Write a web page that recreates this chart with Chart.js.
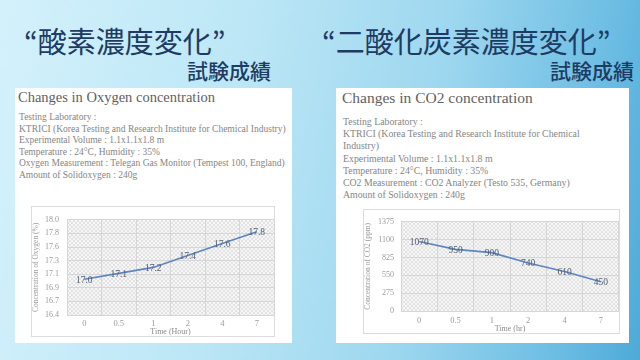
<!DOCTYPE html>
<html>
<head>
<meta charset="utf-8">
<script src="https://cdn.jsdelivr.net/npm/chart.js@4"></script>
<style>
  html,body{margin:0;padding:0;}
  body{width:640px;height:360px;overflow:hidden;position:relative;
    background:linear-gradient(100deg,#d3f1fb 0%,#bde7f6 35%,#9dd7ef 65%,#6cbde3 88%,#4eaad8 100%);
    font-family:"Liberation Serif",serif;}
  .t1{position:absolute;font-family:"Noto Sans CJK JP",sans-serif;font-weight:400;color:#1d3b63;font-size:29px;line-height:1;white-space:nowrap;}
  .t2{position:absolute;font-family:"Noto Sans CJK JP",sans-serif;font-weight:500;color:#1d3b63;font-size:21px;line-height:1;white-space:nowrap;}
  .panel{position:absolute;background:#fff;}
  .ptitle{position:absolute;color:#5f5f5f;white-space:nowrap;line-height:1;}
  .body{position:absolute;color:#858585;}
  .body div{white-space:nowrap;}
  .box{position:absolute;border:1px solid #dcdcdc;box-sizing:border-box;background:#fff;}
  canvas{position:absolute;left:0;top:0;}
</style>
</head>
<body>
<div class="t1" style="left:24px;top:26px;">“酸素濃度変化”</div>
<div class="t2" style="left:187px;top:60px;">試験成績</div>
<div class="t1" style="left:322px;top:26px;">“二酸化炭素濃度変化”</div>
<div class="t2" style="left:550px;top:60px;">試験成績</div>

<div class="panel" style="left:15px;top:88px;width:277px;height:255px;"></div>
<div class="panel" style="left:336px;top:88px;width:293px;height:255px;"></div>

<div class="ptitle" style="left:18px;top:90px;font-size:14.5px;">Changes in Oxygen concentration</div>
<div class="body" style="left:19px;top:112px;font-size:9.5px;line-height:11.6px;">
  <div>Testing Laboratory :</div>
  <div>KTRICI (Korea Testing and Research Institute for Chemical Industry)</div>
  <div>Experimental Volume : 1.1x1.1x1.8 m</div>
  <div>Temperature : 24°C, Humidity : 35%</div>
  <div>Oxygen Measurement : Telegan Gas Monitor (Tempest 100, England)</div>
  <div>Amount of Solidoxygen : 240g</div>
</div>

<div class="ptitle" style="left:342px;top:90px;font-size:15.5px;">Changes in CO2 concentration</div>
<div class="body" style="left:343px;top:116px;font-size:9.8px;line-height:12.2px;">
  <div>Testing Laboratory :</div>
  <div>KTRICI (Korea Testing and Research Institute for Chemical</div>
  <div>Industry)</div>
  <div>Experimental Volume : 1.1x1.1x1.8 m</div>
  <div>Temperature : 24°C, Humidity : 35%</div>
  <div>CO2 Measurement : CO2 Analyzer (Testo 535, Germany)</div>
  <div>Amount of Solidoxygen : 240g</div>
</div>

<div class="box" style="left:31px;top:206px;width:244px;height:131px;"><canvas id="c1" width="243" height="130"></canvas></div>
<div class="box" style="left:363px;top:209px;width:257px;height:125px;"><canvas id="c2" width="256" height="124"></canvas></div>

<script>
// ---- data ----
const TIME_LABELS = ["0", "0.5", "1", "2", "4", "7"];
const O2_VALUES = [17.0, 17.1, 17.2, 17.4, 17.6, 17.8];
const O2_VALUE_LABELS = ["17.0", "17.1", "17.2", "17.4", "17.6", "17.8"];
const O2_TICK_LABELS = ["16.4", "16.7", "16.9", "17.1", "17.3", "17.6", "17.8", "18.0"];
const O2_MIN = 16.4, O2_MAX = 18.0;
const CO2_VALUES = [1070, 950, 900, 740, 610, 450];
const CO2_VALUE_LABELS = ["1070", "950", "900", "740", "610", "450"];
const CO2_MIN = 0, CO2_MAX = 1375, CO2_STEP = 275;

// ---- styling helpers ----
function makePattern(ctx){
  const p = document.createElement('canvas');
  p.width = 4; p.height = 4;
  const g = p.getContext('2d');
  g.fillStyle = '#f7f7f7'; g.fillRect(0,0,4,4);
  g.fillStyle = '#e2e2e2';
  for (let i=0;i<4;i++){ g.fillRect(i,i,1,1); g.fillRect(3-i,i,1,1); }
  return ctx.createPattern(p,'repeat');
}
const bgPlugin = {
  id:'plotBg',
  beforeDraw(chart){
    const {ctx, chartArea:a} = chart;
    ctx.save();
    ctx.fillStyle = makePattern(ctx);
    ctx.fillRect(a.left, a.top, a.right-a.left, a.bottom-a.top);
    ctx.restore();
  }
};
const labelPlugin = {
  id:'valLabels',
  afterDatasetsDraw(chart, args, opts){
    const {ctx} = chart;
    const meta = chart.getDatasetMeta(0);
    ctx.save();
    ctx.font = '9.5px "Liberation Serif", serif';
    ctx.fillStyle = '#4f5e73';
    ctx.textAlign = 'center';
    ctx.textBaseline = 'middle';
    meta.data.forEach((pt,i)=>{
      ctx.fillText(opts.labels[i], pt.x, pt.y+1);
    });
    ctx.restore();
  }
};

function makeChart(id, values, labels, yOpts, xTitle, yTitle, dims){
  return new Chart(document.getElementById(id), {
    type:'line',
    data:{ labels: TIME_LABELS, datasets:[{ data: values, borderColor:'#5b86c0', borderWidth:1.6, pointRadius:0, tension:0, fill:false }]},
    plugins:[bgPlugin, labelPlugin],
    options:{
      responsive:false, animation:false,
      layout:{ padding:{ left:0, right:1, top:dims.top, bottom:0 } },
      plugins:{ legend:{display:false}, tooltip:{enabled:false}, valLabels:{ labels: labels } },
      scales:{
        x:{
          offset:true,
          grid:{ color:'#d6d6d6', offset:true, drawTicks:false, lineWidth:1 },
          border:{ display:false },
          ticks:{ color:'#9a9a9a', font:{ family:'"Liberation Serif", serif', size:8.5 }, padding:dims.xpad, maxRotation:0 },
          title:{ display:true, text:xTitle, color:'#8a8a8a', font:{ family:'"Liberation Serif", serif', size:8 }, padding:{top:0,bottom:0} },
          afterFit(s){ s.height = dims.xh; }
        },
        y: Object.assign({
          grid:{ color:'#d6d6d6', drawTicks:false, lineWidth:1 },
          border:{ display:false },
          title:{ display:true, text:yTitle, color:'#9a9a9a', font:{ family:'"Liberation Serif", serif', size:7.5 }, padding:{top:0,bottom:0} },
          afterFit(s){ s.width = dims.yw; }
        }, yOpts)
      }
    }
  });
}

makeChart('c1', O2_VALUES, O2_VALUE_LABELS, {
  min:O2_MIN, max:O2_MAX,
  ticks:{ stepSize:(O2_MAX-O2_MIN)/(O2_TICK_LABELS.length-1), color:'#9a9a9a', font:{ family:'"Liberation Serif", serif', size:8 }, padding:8,
    callback:(v,i)=>O2_TICK_LABELS[i] }
}, 'Time (Hour)', 'Concentration of Oxygen (%)', {top:9, xh:22, yw:35, xpad:4});

makeChart('c2', CO2_VALUES, CO2_VALUE_LABELS, {
  min:CO2_MIN, max:CO2_MAX,
  ticks:{ stepSize:CO2_STEP, color:'#9a9a9a', font:{ family:'"Liberation Serif", serif', size:8 }, padding:7,
    callback:(v)=>String(v) }
}, 'Time (hr)', 'Concentration of CO2 (ppm)', {top:10, xh:23, yw:37, xpad:5});
</script>
</body>
</html>
